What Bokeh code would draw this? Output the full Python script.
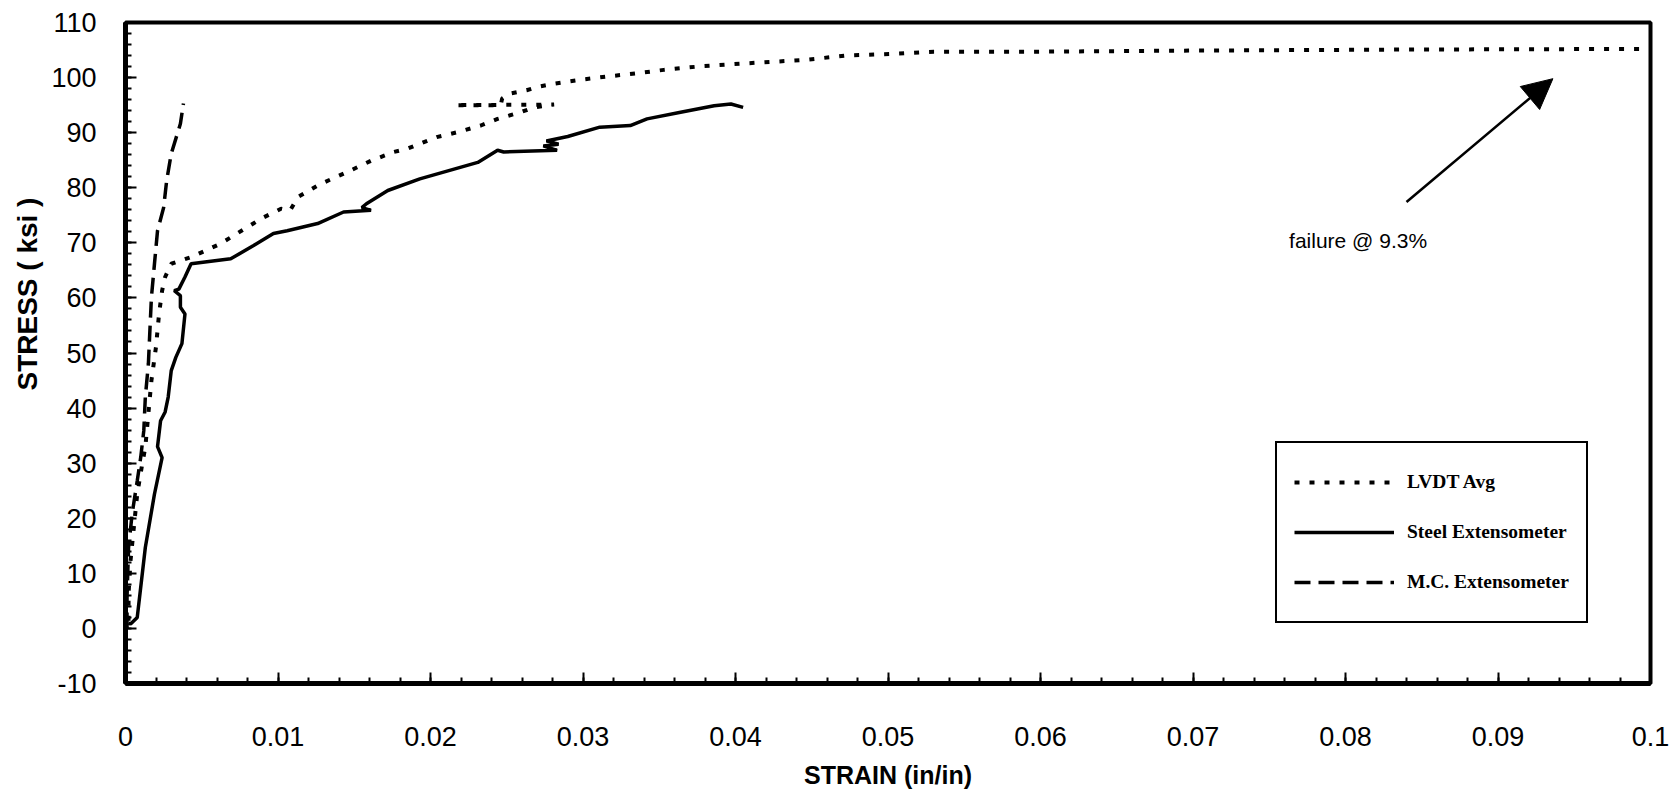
from bokeh.plotting import figure
from bokeh.models import (Range1d, FixedTicker, Legend, LegendItem, Arrow, NormalHead,
                          Label, Title, NumeralTickFormatter)
from bokeh.embed import file_html
from bokeh.resources import INLINE

# ---- data ----
lvdt_strain = [0.0002, 0.0002, 0.00033, 0.00055, 0.00077, 0.0011, 0.0013, 0.0015, 0.0017,
               0.0020, 0.0022, 0.0024, 0.0026, 0.0030, 0.0043, 0.0062, 0.0089, 0.0102,
               0.0108, 0.0113, 0.0128, 0.0145, 0.0161, 0.0176, 0.0185, 0.0204, 0.0218,
               0.0233, 0.0244, 0.0259, 0.0268, 0.0281, 0.0216, 0.0246, 0.0247, 0.0252,
               0.0263, 0.0270, 0.0281, 0.0298, 0.0316, 0.0336, 0.0353, 0.0379, 0.0408,
               0.0445, 0.0473, 0.0502, 0.0530, 0.0596, 0.0698, 0.0850, 0.1000]
lvdt_stress = [1.4, 6.3, 12.3, 18.4, 24.4, 29.9, 32.9, 39.0, 45.0,
               51.1, 57.1, 61.3, 63.8, 66.2, 67.4, 69.8, 74.4, 76.2,
               75.9, 78.3, 80.7, 82.8, 84.9, 86.5, 87.1, 89.2, 90.1,
               91.3, 92.5, 93.7, 94.6, 95.1, 95.0, 95.0, 96.2, 97.1,
               97.7, 98.3, 98.9, 99.6, 100.2, 100.8, 101.4, 102.1, 102.6,
               103.2, 104.0, 104.3, 104.7, 104.7, 104.9, 105.1, 105.2]

steel_strain = [0.0002, 0.00033, 0.00077, 0.0013, 0.0019, 0.0024, 0.0021, 0.0023, 0.0026,
                0.0028, 0.0030, 0.0033, 0.0037, 0.0039, 0.0036, 0.0036, 0.0032, 0.0035,
                0.0039, 0.0043, 0.0069, 0.0084, 0.0097, 0.0106, 0.0126, 0.0143, 0.0161,
                0.0155, 0.0158, 0.0172, 0.0193, 0.0231, 0.0244, 0.0248, 0.0283, 0.0274,
                0.0284, 0.0276, 0.0290, 0.0311, 0.0331, 0.0342, 0.0364, 0.0386, 0.0397,
                0.0405]
steel_stress = [1.0, 0.8, 2.0, 14.7, 24.4, 31.0, 33.0, 37.7, 39.3,
                42.0, 46.8, 49.2, 51.7, 57.1, 58.3, 60.4, 61.3, 61.6,
                63.8, 66.2, 67.1, 69.5, 71.7, 72.2, 73.5, 75.6, 75.9,
                76.4, 77.1, 79.5, 81.6, 84.6, 86.8, 86.5, 86.8, 87.6,
                87.9, 88.5, 89.3, 91.0, 91.3, 92.5, 93.7, 94.9, 95.2,
                94.6]

mc_strain = [0.0001, 0.0001, 0.0002, 0.00044, 0.00077, 0.0010, 0.0012, 0.0013, 0.0015,
             0.0016, 0.0017, 0.0019, 0.0021, 0.0025, 0.0027, 0.0030, 0.0032, 0.0036, 0.0038]
mc_stress = [0.0, 5.7, 14.7, 20.9, 26.8, 31.1, 35.9, 42.0, 48.0,
             54.1, 60.1, 66.2, 72.2, 76.4, 81.3, 86.2, 88.0, 91.6, 95.3]

series_names = ["LVDT Avg", "Steel Extensometer", "M.C. Extensometer"]

strain_ticks = [0.0, 0.01, 0.02, 0.03, 0.04, 0.05, 0.06, 0.07, 0.08, 0.09, 0.1]
strain_tick_labels = ["0", "0.01", "0.02", "0.03", "0.04", "0.05", "0.06", "0.07", "0.08", "0.09", "0.1"]
stress_ticks = [-10, 0, 10, 20, 30, 40, 50, 60, 70, 80, 90, 100, 110]
stress_tick_labels = ["-10", "0", "10", "20", "30", "40", "50", "60", "70", "80", "90", "100", "110"]

x_title = "STRAIN (in/in)"
y_title = "STRESS ( ksi )"
annotation_text = "failure @ 9.3%"
arrow_start = (0.0840, 77.4)
arrow_end = (0.0936, 99.8)
annotation_pos = (0.0763, 70.4)

# ---- figure ----
p = figure(width=1675, height=796, output_backend="svg", toolbar_location=None,
           x_range=Range1d(0, 0.1), y_range=Range1d(-10, 110),
           min_border_left=125, min_border_right=25, min_border_top=22, min_border_bottom=113)
p.background_fill_color = "white"
p.border_fill_color = "white"
p.outline_line_color = "black"
p.outline_line_width = 4
p.outline_line_alpha = 1.0
p.xgrid.visible = False
p.ygrid.visible = False

FONT = "Liberation Sans"

xa = p.xaxis[0]
xa.ticker = FixedTicker(ticks=strain_ticks, minor_ticks=[i * 0.002 for i in range(51)])
xa.formatter = NumeralTickFormatter(format="0.[00]")
xa.major_label_overrides = {t: s for t, s in zip(strain_ticks, strain_tick_labels)}
xa.axis_label = x_title
xa.axis_label_text_font = FONT
xa.axis_label_text_font_style = "bold"
xa.axis_label_text_font_size = "25px"
xa.axis_label_standoff = 12

ya = p.yaxis[0]
ya.ticker = FixedTicker(ticks=stress_ticks, minor_ticks=list(range(-10, 111, 2)))
ya.major_label_overrides = {t: s for t, s in zip(stress_ticks, stress_tick_labels)}

for ax in (xa, ya):
    ax.axis_line_width = 5
    ax.axis_line_color = "black"
    ax.major_tick_in = 11
    ax.major_tick_out = 0
    ax.minor_tick_in = 6
    ax.minor_tick_out = 0
    ax.major_tick_line_width = 2
    ax.minor_tick_line_width = 2
    ax.major_tick_line_color = "black"
    ax.minor_tick_line_color = "black"
    ax.major_label_text_font = FONT
    ax.major_label_text_font_size = "27px"
    ax.major_label_text_color = "black"
    ax.axis_label_text_color = "black"
xa.major_label_standoff = 43
ya.major_label_standoff = 29

# y title, placed above centre like the original
p.add_layout(Title(text=y_title, align="left", offset=293, standoff=12,
                   text_font=FONT, text_font_style="bold", text_font_size="28px",
                   text_color="black"), "left")

# ---- series ----
r_lvdt = p.line(lvdt_strain, lvdt_stress, line_color="black", line_width=4, line_dash="5 10")
r_steel = p.line(steel_strain, steel_stress, line_color="black", line_width=3.5)
r_mc = p.line(mc_strain, mc_stress, line_color="black", line_width=3.5, line_dash="16 8")

# ---- annotation ----
p.add_layout(Arrow(end=NormalHead(size=30, fill_color="black", line_color="black"),
                   x_start=arrow_start[0], y_start=arrow_start[1],
                   x_end=arrow_end[0], y_end=arrow_end[1],
                   line_color="black", line_width=2.5))
p.add_layout(Label(x=annotation_pos[0], y=annotation_pos[1], text=annotation_text,
                   text_font=FONT, text_font_size="21px", text_baseline="middle",
                   text_align="left", text_color="black"))

# ---- legend ----
legend = Legend(items=[LegendItem(label=series_names[0], renderers=[r_lvdt]),
                       LegendItem(label=series_names[1], renderers=[r_steel]),
                       LegendItem(label=series_names[2], renderers=[r_mc])],
                location=(1150, 60))
legend.label_text_font = "Liberation Serif"
legend.label_text_font_style = "bold"
legend.label_text_font_size = "19.5px"
legend.label_text_color = "black"
legend.glyph_width = 100
legend.glyph_height = 44
legend.label_height = 44
legend.label_standoff = 13
legend.padding = 17
legend.spacing = 6
legend.margin = 0
legend.border_line_color = "black"
legend.border_line_alpha = 1.0
legend.border_line_width = 2
legend.background_fill_color = "white"
legend.background_fill_alpha = 1.0
p.add_layout(legend)

open("out.html", "w").write(file_html(p, INLINE))
